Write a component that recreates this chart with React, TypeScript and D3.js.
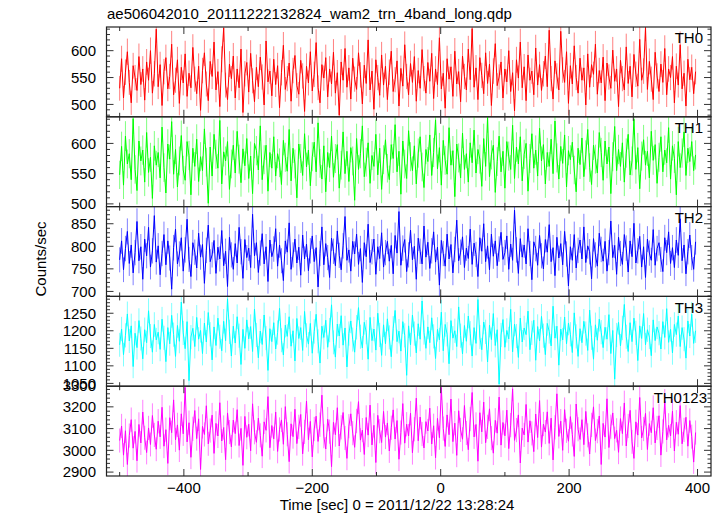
import React from "react";
import * as d3 from "d3";

const TITLE = "ae506042010_20111222132824_wam2_trn_4band_long.qdp";
const X_LABEL = "Time [sec] 0 = 2011/12/22 13:28:24";
const Y_LABEL = "Counts/sec";
const T_START = -500;
const T_STEP = 3;
const X_DOMAIN = [-520.5, 421];
const X_MAJOR = [-400, -200, 0, 200, 400];
const X_TICKS = [-500, -400, -300, -200, -100, 0, 100, 200, 300, 400];

const PANEL_NAMES = ["TH0", "TH1", "TH2", "TH3", "TH0123"];
const PANEL_COLORS = ["#ff0000", "#00ff00", "#0000ff", "#00ffff", "#ff00ff"];
const PANEL_DOMAINS = [[477, 644], [495.5, 644], [689, 888], [1042, 1298], [2882, 3295]];
const PANEL_MAJOR = [
  [500, 550, 600],
  [500, 550, 600],
  [700, 750, 800, 850],
  [1050, 1100, 1150, 1200, 1250],
  [2900, 3000, 3100, 3200, 3300],
];
const PANEL_MINOR_STEP = [10, 10, 10, 10, 20];

const TH0 = [
  530, 585, 512, 560, 598, 541, 503, 572, 550, 526, 589, 537, 566, 508, 579, 545, 600, 521, 557, 640,
  533, 574, 498, 561, 587, 529, 552, 612, 518, 545, 583, 502, 569, 540, 594, 515, 558, 531, 606, 547,
  520, 571, 489, 563, 596, 538, 507, 580, 552, 616, 527, 561, 496, 584, 642, 536, 509, 575, 548, 590,
  512, 566, 531, 603, 485, 557, 578, 523, 595, 544, 505, 569, 533, 588, 551, 499, 618, 542, 562, 516,
  584, 537, 572, 494, 559, 610, 528, 548, 577, 506, 563, 591, 535, 519, 582, 553, 487, 571, 540, 598,
  525, 556, 615, 531, 503, 574, 549, 587, 514, 566, 538, 597, 521, 559, 480, 579, 545, 604, 532, 568,
  510, 586, 547, 528, 596, 555, 501, 573, 539, 620, 527, 562, 491, 583, 550, 517, 592, 536, 571, 509,
  560, 599, 524, 546, 581, 497, 567, 534, 611, 552, 518, 576, 541, 589, 506, 563, 530, 602, 548, 521,
  578, 543, 595, 511, 566, 537, 624, 529, 558, 493, 585, 547, 570, 515, 599, 538, 561, 505, 590, 552,
  527, 603, 546, 641, 532, 568, 509, 587, 554, 520, 596, 539, 575, 498, 562, 613, 535, 551, 579, 512,
  566, 542, 600, 524, 559, 488, 583, 549, 616, 531, 570, 507, 592, 545, 562, 518, 605, 536, 574, 526,
  557, 590, 533, 638, 548, 510, 581, 553, 527, 636, 564, 541, 598, 502, 572, 538, 609, 550, 521, 586,
  545, 568, 499, 594, 532, 574, 556, 612, 519, 563, 540, 588, 507, 577, 551, 530, 601, 543, 566, 496,
  582, 548, 527, 607, 539, 571, 514, 593, 556, 534, 621, 545, 562, 643, 528, 580, 547, 509, 597, 553,
  524, 575, 541, 604, 518, 566, 550, 589, 503, 571, 536, 611, 529, 558, 497, 584, 546, 569, 520, 561,
];

const TH1 = [
  548, 595, 531, 612, 566, 583, 540, 641, 557, 522, 604, 571, 589, 536, 618, 552, 577, 509, 596, 564,
  585, 543, 627, 560, 518, 599, 574, 636, 549, 590, 528, 571, 613, 556, 539, 603, 580, 515, 592, 562,
  607, 537, 578, 555, 624, 569, 501, 594, 546, 615, 582, 559, 638, 533, 586, 571, 603, 524, 566, 597,
  551, 620, 574, 535, 591, 563, 608, 542, 579, 517, 600, 588, 556, 629, 540, 573, 597, 521, 585, 559,
  611, 546, 583, 568, 532, 605, 577, 554, 623, 538, 592, 566, 510, 599, 575, 547, 616, 561, 589, 530,
  578, 602, 553, 634, 567, 541, 596, 520, 585, 560, 612, 544, 575, 598, 526, 564, 619, 550, 587, 537,
  593, 571, 506, 608, 557, 583, 629, 545, 569, 601, 534, 580, 562, 615, 548, 592, 524, 573, 606, 559,
  540, 598, 575, 631, 553, 587, 516, 604, 566, 542, 621, 578, 555, 596, 533, 584, 611, 561, 527, 590,
  570, 614, 547, 585, 639, 558, 593, 531, 605, 572, 549, 626, 564, 588, 512, 599, 576, 543, 617, 557,
  583, 536, 601, 568, 622, 551, 590, 574, 529, 608, 562, 643, 545, 581, 597, 519, 570, 612, 553, 587,
  526, 603, 579, 557, 630, 542, 594, 566, 611, 538, 582, 600, 521, 575, 616, 559, 589, 546, 625, 571,
  598, 533, 585, 562, 607, 550, 637, 576, 541, 595, 567, 614, 528, 588, 573, 602, 556, 520, 592, 565,
  609, 545, 581, 623, 560, 532, 597, 574, 551, 618, 585, 539, 604, 566, 594, 517, 578, 628, 555, 590,
  562, 601, 536, 584, 615, 548, 571, 640, 557, 593, 525, 579, 606, 564, 587, 543, 620, 572, 598, 534,
  577, 611, 553, 589, 568, 626, 541, 596, 575, 515, 603, 560, 584, 619, 547, 592, 570, 603, 555, 581,
];

const TH2 = [
  770, 812, 748, 795, 833, 762, 803, 741, 786, 855, 768, 799, 727, 816, 779, 842, 754, 790, 868, 765,
  801, 737, 784, 826, 759, 812, 774, 705, 797, 838, 761, 783, 819, 745, 792, 860, 771, 733, 808, 787,
  752, 829, 776, 804, 718, 791, 847, 766, 781, 813, 740, 798, 772, 835, 757, 789, 711, 820, 781, 749,
  806, 763, 842, 788, 729, 815, 775, 796, 753, 871, 779, 808, 742, 785, 828, 761, 799, 722, 814, 777,
  794, 839, 756, 803, 768, 724, 812, 787, 852, 749, 781, 816, 763, 798, 736, 825, 772, 805, 746, 790,
  823, 766, 797, 710, 784, 843, 759, 806, 775, 731, 818, 789, 757, 834, 780, 748, 801, 866, 769, 792,
  745, 811, 783, 827, 760, 795, 720, 808, 777, 849, 764, 788, 816, 738, 799, 773, 830, 754, 786, 811,
  767, 802, 739, 824, 785, 877, 758, 796, 815, 744, 781, 836, 770, 800, 727, 818, 789, 761, 845, 776,
  809, 751, 790, 832, 765, 798, 714, 813, 784, 756, 827, 772, 804, 741, 793, 858, 768, 787, 821, 753,
  796, 773, 838, 760, 807, 782, 733, 819, 789, 850, 766, 801, 748, 827, 778, 812, 757, 794, 831, 771,
  786, 823, 749, 805, 769, 880, 792, 740, 817, 776, 803, 761, 839, 784, 726, 810, 795, 758, 824, 779,
  750, 815, 787, 848, 766, 797, 735, 820, 774, 806, 759, 833, 783, 712, 799, 769, 826, 752, 791, 814,
  772, 843, 764, 801, 788, 728, 817, 781, 756, 829, 793, 767, 811, 745, 786, 856, 775, 802, 738, 820,
  784, 760, 826, 796, 743, 812, 777, 851, 763, 790, 822, 754, 799, 731, 816, 785, 769, 837, 758, 795,
  808, 771, 744, 819, 786, 832, 762, 797, 753, 814, 780, 861, 768, 803, 739, 788, 825, 775, 749, 810,
];

const TH3 = [
  1160, 1205, 1132, 1187, 1248, 1171, 1214, 1098, 1193, 1152, 1229, 1178, 1120, 1203, 1166, 1257, 1185, 1139, 1218, 1174,
  1196, 1147, 1233, 1180, 1112, 1209, 1163, 1244, 1189, 1127, 1215, 1170, 1282, 1194, 1149, 1226, 1058, 1182, 1207, 1155,
  1238, 1176, 1201, 1135, 1222, 1168, 1252, 1190, 1117, 1211, 1158, 1236, 1183, 1143, 1227, 1172, 1291, 1197, 1128, 1213,
  1165, 1240, 1186, 1104, 1204, 1150, 1231, 1177, 1212, 1141, 1262, 1188, 1123, 1199, 1161, 1245, 1179, 1087, 1206, 1169,
  1223, 1148, 1195, 1264, 1173, 1131, 1216, 1184, 1240, 1156, 1200, 1114, 1235, 1178, 1209, 1144, 1255, 1187, 1162, 1221,
  1136, 1198, 1247, 1170, 1108, 1213, 1181, 1230, 1153, 1202, 1274, 1167, 1125, 1219, 1185, 1243, 1159, 1208, 1097, 1192,
  1228, 1175, 1139, 1210, 1266, 1183, 1151, 1224, 1196, 1119, 1238, 1172, 1205, 1145, 1250, 1188, 1130, 1217, 1163, 1234,
  1181, 1126, 1207, 1258, 1169, 1199, 1142, 1226, 1187, 1073, 1214, 1160, 1245, 1192, 1137, 1220, 1176, 1285, 1195, 1150,
  1211, 1166, 1237, 1184, 1121, 1204, 1174, 1253, 1143, 1218, 1190, 1106, 1229, 1179, 1200, 1155, 1268, 1186, 1134, 1215,
  1170, 1242, 1193, 1128, 1209, 1164, 1289, 1182, 1146, 1225, 1197, 1111, 1216, 1175, 1249, 1158, 1203, 1048, 1188, 1232,
  1153, 1201, 1177, 1261, 1140, 1219, 1185, 1124, 1236, 1168, 1208, 1189, 1256, 1146, 1194, 1230, 1116, 1212, 1171, 1241,
  1186, 1132, 1221, 1198, 1157, 1270, 1179, 1213, 1102, 1205, 1174, 1239, 1163, 1222, 1190, 1138, 1251, 1184, 1127, 1206,
  1166, 1227, 1192, 1144, 1259, 1180, 1119, 1217, 1173, 1233, 1196, 1152, 1210, 1176, 1246, 1135, 1201, 1062, 1188, 1224,
  1157, 1208, 1275, 1183, 1141, 1223, 1169, 1236, 1194, 1115, 1214, 1178, 1249, 1160, 1203, 1182, 1129, 1231, 1172, 1211,
  1193, 1148, 1226, 1181, 1263, 1167, 1204, 1137, 1218, 1189, 1242, 1155, 1209, 1176, 1122, 1228, 1185, 1247, 1164, 1200,
];

const TH0123 = [
  3045, 3112, 2978, 3090, 2935, 3068, 3141, 3010, 3087, 2952, 3119, 3034, 3176, 3058, 2990, 3103, 3027, 3160, 3071, 3005,
  3134, 3062, 3198, 3019, 3095, 2940, 3150, 3081, 3232, 3048, 3117, 3001, 3168, 3076, 3289, 3039, 3127, 2968, 3099, 3183,
  3054, 3145, 2912, 3110, 3073, 3205, 3030, 3091, 3162, 2986, 3124, 3066, 3219, 3043, 3105, 2957, 3172, 3084, 3016, 3139,
  3077, 3187, 3022, 3101, 2931, 3156, 3060, 3120, 2998, 3214, 3083, 3037, 3148, 3069, 2973, 3131, 3092, 3247, 3012, 3114,
  3053, 3176, 2995, 3096, 3140, 3028, 3201, 3074, 2948, 3122, 3063, 3189, 3031, 3108, 3165, 2984, 3085, 3227, 3049, 3133,
  2970, 3098, 3157, 3041, 3118, 3254, 3065, 3006, 3143, 3086, 2925, 3129, 3072, 3196, 3020, 3106, 3174, 3057, 2963, 3111,
  3168, 3079, 3014, 3135, 3224, 3047, 3093, 2981, 3151, 3070, 3208, 3025, 3115, 2944, 3161, 3088, 3036, 3179, 3061, 3126,
  2997, 3104, 3186, 3052, 3137, 2959, 3082, 3215, 3033, 3120, 3066, 3171, 2989, 3097, 3240, 3044, 3153, 3075, 3011, 3132,
  3089, 3194, 3029, 3113, 2966, 3147, 3058, 3289, 3100, 3018, 3163, 3072, 3236, 3040, 3125, 2977, 3182, 3094, 3051, 3206,
  3080, 3003, 3144, 3266, 3062, 3119, 2950, 3173, 3085, 3222, 3035, 3108, 3191, 3056, 2987, 3138, 3079, 3245, 3024, 3128,
  3067, 3185, 3008, 3116, 3283, 3046, 3093, 3163, 2942, 3102, 3071, 3211, 3038, 3136, 3078, 2994, 3167, 3059, 3229, 3015,
  3121, 3084, 3177, 3032, 3148, 2956, 3106, 3260, 3064, 3134, 3000, 3187, 3090, 3042, 3155, 3073, 2972, 3213, 3097, 3050,
  3141, 3026, 3179, 3069, 2983, 3117, 3200, 3045, 3088, 3158, 2935, 3124, 3061, 3237, 3013, 3109, 3172, 3054, 3092, 2991,
  3146, 3077, 3218, 3020, 3112, 3184, 3039, 2963, 3131, 3070, 3243, 3057, 3098, 3170, 3004, 3123, 3081, 3196, 3034, 3103,
  3159, 2978, 3087, 3225, 3048, 3115, 3066, 3180, 2997, 3129, 3074, 3206, 3030, 3094, 3152, 3019, 3137, 3063, 2946, 3082,
];

const SERIES = [TH0, TH1, TH2, TH3, TH0123];

const W = 723;
const H = 516;
const LEFT = 106.5;
const RIGHT = 711;
const TOP = 27;
const PANEL_H = 89.8;
const FONT = "'Liberation Sans', Arial, Helvetica, sans-serif";
const LABEL_X = [703, 703, 703, 703, 707];

export default function App() {
  const x = d3.scaleLinear().domain(X_DOMAIN).range([LEFT, RIGHT]);

  return (
    <svg width={W} height={H} style={{ position: "absolute", left: 0, top: 0, background: "#fff" }}
      fontFamily={FONT}>
      <rect width={W} height={H} fill="#fff" />
      <text x={107} y={18.5} fontSize={15} fill="#000">{TITLE}</text>
      {SERIES.map((vals, p) => {
        const top = TOP + p * PANEL_H;
        const bottom = top + PANEL_H;
        const y = d3.scaleLinear().domain(PANEL_DOMAINS[p]).range([bottom, top]);
        const pts = vals.map((v, i) => [x(T_START + i * T_STEP), y(v)] as [number, number]);
        const line = d3.line()(pts) || "";
        const errPath = vals
          .map((v, i) => {
            const e = Math.sqrt(v);
            const xx = x(T_START + i * T_STEP);
            return `M${xx},${y(v + e)}V${y(v - e)}`;
          })
          .join("");
        const [d0, d1] = PANEL_DOMAINS[p];
        const step = PANEL_MINOR_STEP[p];
        const minor = d3.range(Math.ceil(d0 / step) * step, d1, step).filter(
          (v) => !PANEL_MAJOR[p].includes(v)
        );
        const color = PANEL_COLORS[p];
        const clipId = `clip${p}`;
        return (
          <g key={p}>
            <defs>
              <clipPath id={clipId}>
                <rect x={LEFT} y={top} width={RIGHT - LEFT} height={PANEL_H} />
              </clipPath>
            </defs>
            <g clipPath={`url(#${clipId})`}>
              <path d={errPath} stroke={color} strokeOpacity={0.5} strokeWidth={1} fill="none" />
              <path d={line} stroke={color} strokeWidth={1} fill="none" />
            </g>
            {PANEL_MAJOR[p].filter((v) => v >= d0 && v <= d1 + 10).map((v) => (
              <g key={"M" + v}>
                {v <= d1 && (
                  <>
                    <line x1={LEFT} x2={LEFT + 7} y1={y(v)} y2={y(v)} stroke="#333" />
                    <line x1={RIGHT} x2={RIGHT - 7} y1={y(v)} y2={y(v)} stroke="#333" />
                  </>
                )}
                <text x={96} y={y(v)} dy="0.36em" textAnchor="end" fontSize={15} fill="#000">
                  {v}
                </text>
              </g>
            ))}
            {minor.map((v) => (
              <g key={"m" + v}>
                <line x1={LEFT} x2={LEFT + 3.5} y1={y(v)} y2={y(v)} stroke="#333" />
                <line x1={RIGHT} x2={RIGHT - 3.5} y1={y(v)} y2={y(v)} stroke="#333" />
              </g>
            ))}
            {X_TICKS.map((t) => {
              const len = X_MAJOR.includes(t) ? 7 : 4;
              return (
                <g key={"x" + t}>
                  <line x1={x(t)} x2={x(t)} y1={top} y2={top + len} stroke="#333" />
                  <line x1={x(t)} x2={x(t)} y1={bottom} y2={bottom - len} stroke="#333" />
                </g>
              );
            })}
            <rect x={LEFT} y={top} width={RIGHT - LEFT} height={PANEL_H} fill="none" stroke="#222" strokeWidth={1.2} />
            <text x={LABEL_X[p]} y={top + 16.3} textAnchor="end" fontSize={15} fill="#000">
              {PANEL_NAMES[p]}
            </text>
          </g>
        );
      })}
      {X_MAJOR.map((t) => (
        <text key={t} x={x(t)} y={493} textAnchor="middle" fontSize={15} fill="#000">
          {t < 0 ? "\u2212" + Math.abs(t) : t}
        </text>
      ))}
      <text x={397} y={510} textAnchor="middle" fontSize={15} fill="#000">{X_LABEL}</text>
      <text transform="translate(46,259) rotate(-90)" textAnchor="middle" fontSize={15} fill="#000">
        {Y_LABEL}
      </text>
    </svg>
  );
}
